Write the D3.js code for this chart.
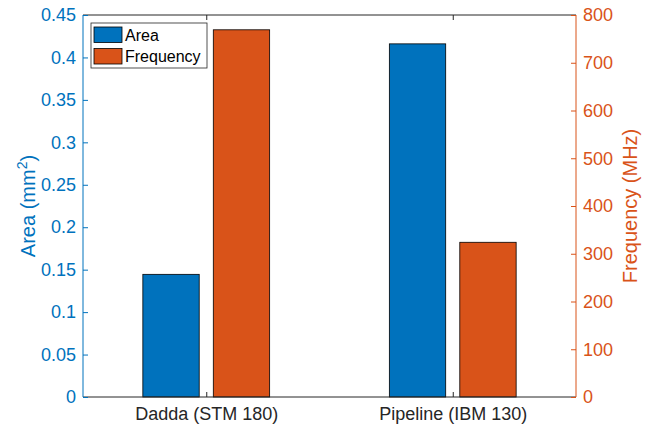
<!DOCTYPE html>
<html>
<head>
<meta charset="utf-8">
<script src="https://cdn.jsdelivr.net/npm/d3@7"></script>
<style>
  body { margin: 0; background: #fff; }
  svg { font-family: "Liberation Sans", Arial, sans-serif; }
</style>
</head>
<body>
<div id="chart"></div>
<script>
// data
var categories = ['Dadda (STM 180)', 'Pipeline (IBM 130)'];
var areaValues = [0.1445, 0.416];      // mm^2, left axis
var freqValues = [769, 324];           // MHz, right axis
var seriesNames = ['Area', 'Frequency'];
var areaTicks = [0, 0.05, 0.1, 0.15, 0.2, 0.25, 0.3, 0.35, 0.4, 0.45];
var freqTicks = [0, 100, 200, 300, 400, 500, 600, 700, 800];

var blue = '#0072BD', orange = '#D95319';
var width = 654, height = 425;
// plot box (note: "top" is reserved on window, so use plot* names)
var plotLeft = 83, plotRight = 576, plotTop = 15, plotBottom = 397;

var svg = d3.select('#chart').append('svg')
  .attr('width', width).attr('height', height);

// matlab style: categories at 1,2 with xlim [0.5, 2.5]
var xscale = d3.scaleLinear().domain([0.5, categories.length + 0.5]).range([plotLeft, plotRight]);
var yLeft = d3.scaleLinear().domain([0, 0.45]).range([plotBottom, plotTop]);
var yRight = d3.scaleLinear().domain([0, 800]).range([plotBottom, plotTop]);

var barOffset = 0.1429, barWidth = 0.2286;

// bars
var g = svg.append('g');
g.selectAll('rect.area').data(areaValues).join('rect')
  .attr('class', 'area')
  .attr('x', (d, i) => xscale(i + 1 - barOffset - barWidth / 2))
  .attr('width', xscale(barWidth) - xscale(0))
  .attr('y', d => yLeft(d))
  .attr('height', d => plotBottom - yLeft(d))
  .attr('fill', blue).attr('stroke', '#000').attr('stroke-width', 0.8);

g.selectAll('rect.freq').data(freqValues).join('rect')
  .attr('class', 'freq')
  .attr('x', (d, i) => xscale(i + 1 + barOffset - barWidth / 2))
  .attr('width', xscale(barWidth) - xscale(0))
  .attr('y', d => yRight(d))
  .attr('height', d => plotBottom - yRight(d))
  .attr('fill', orange).attr('stroke', '#000').attr('stroke-width', 0.8);

// bottom axis
var xaxis = svg.append('g')
  .attr('transform', 'translate(0,' + plotBottom + ')')
  .call(d3.axisBottom(xscale).tickValues([1, 2]).tickSize(-5)
    .tickFormat((d) => categories[d - 1]));
xaxis.select('.domain').attr('stroke', '#262626').attr('d', 'M' + plotLeft + ',0H' + plotRight);
xaxis.selectAll('line').attr('stroke', '#262626');
xaxis.selectAll('text').attr('fill', '#262626').attr('font-size', 18)
  .attr('y', 23).attr('dy', 0);

// top box line
var topaxis = svg.append('g')
  .attr('transform', 'translate(0,' + plotTop + ')')
  .call(d3.axisTop(xscale).tickValues([1, 2]).tickSize(-5).tickFormat(''));
topaxis.select('.domain').attr('stroke', '#262626').attr('d', 'M' + plotLeft + ',0H' + plotRight);
topaxis.selectAll('line').attr('stroke', '#262626');

// left axis
var yaxisL = svg.append('g')
  .attr('transform', 'translate(' + plotLeft + ',0)')
  .call(d3.axisLeft(yLeft).tickValues(areaTicks).tickSize(-5).tickPadding(7)
    .tickFormat(d3.format('')));
yaxisL.select('.domain').attr('stroke', blue).attr('d', 'M0,' + plotBottom + 'V' + plotTop);
yaxisL.selectAll('line').attr('stroke', blue);
yaxisL.selectAll('text').attr('fill', blue).attr('font-size', 18);

// right axis
var yaxisR = svg.append('g')
  .attr('transform', 'translate(' + plotRight + ',0)')
  .call(d3.axisRight(yRight).tickValues(freqTicks).tickSize(-5).tickPadding(7));
yaxisR.select('.domain').attr('stroke', orange).attr('d', 'M0,' + plotBottom + 'V' + plotTop);
yaxisR.selectAll('line').attr('stroke', orange);
yaxisR.selectAll('text').attr('fill', orange).attr('font-size', 18);

svg.selectAll('.tick text').attr('font-family', '"Liberation Sans", Arial, sans-serif');

// axis titles
var midY = (plotTop + plotBottom) / 2;
var lab = svg.append('text')
  .attr('transform', 'translate(35,' + midY + ') rotate(-90)')
  .attr('text-anchor', 'middle')
  .attr('fill', blue).attr('font-size', 20);
lab.append('tspan').text('Area (mm');
lab.append('tspan').attr('dy', -8).attr('font-size', 14).text('2');
lab.append('tspan').attr('dy', 8).text(')');

svg.append('text')
  .attr('transform', 'translate(637,' + midY + ') rotate(-90)')
  .attr('text-anchor', 'middle')
  .attr('fill', orange).attr('font-size', 20)
  .text('Frequency (MHz)');

// legend
var legend = svg.append('g').attr('transform', 'translate(91,23)');
legend.append('rect').attr('width', 116).attr('height', 45)
  .attr('fill', '#fff').attr('stroke', '#262626').attr('stroke-width', 0.8);
var colors = [blue, orange];
seriesNames.forEach(function (name, i) {
  legend.append('rect')
    .attr('x', 3).attr('y', 4 + i * 21.5)
    .attr('width', 28).attr('height', 15.5)
    .attr('fill', colors[i]).attr('stroke', '#000').attr('stroke-width', 0.8);
  legend.append('text')
    .attr('x', 34).attr('y', 17.5 + i * 21.5)
    .attr('font-size', 16).attr('fill', '#000')
    .text(name);
});
</script>
</body>
</html>
